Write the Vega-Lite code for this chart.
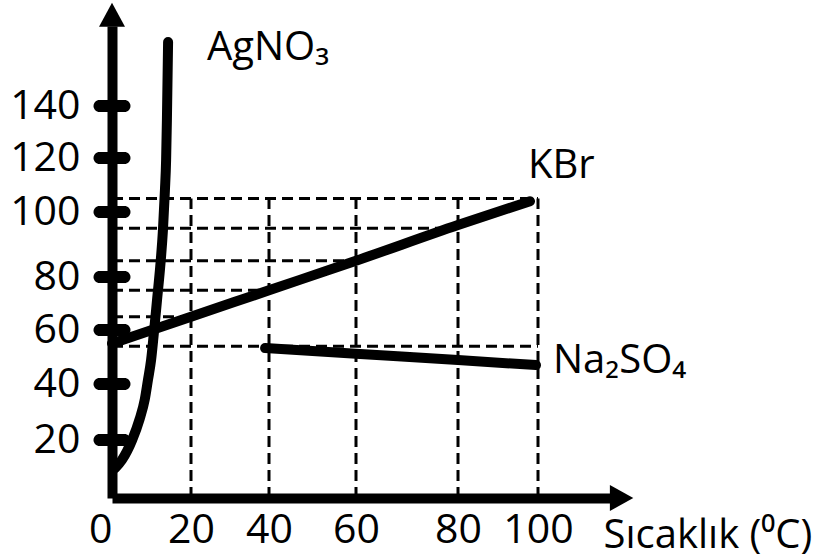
{
  "$schema": "https://vega.github.io/schema/vega-lite/v6.json",
  "width": 712,
  "height": 498,
  "autosize": {"type": "none"},
  "padding": {"left": 112, "top": 0, "right": 0, "bottom": 62},
  "background": "white",
  "config": {"view": {"stroke": null}, "font": "Open Sans"},
  "datasets": {
    "guides": [
      {"x": 0, "x2": 100, "y": 105, "y2": 105},
      {"x": 0, "x2": 80, "y": 95, "y2": 95},
      {"x": 0, "x2": 60, "y": 85, "y2": 85},
      {"x": 0, "x2": 40, "y": 75, "y2": 75},
      {"x": 0, "x2": 20, "y": 65, "y2": 65},
      {"x": 0, "x2": 100, "y": 54, "y2": 54},
      {"x": 20, "x2": 20, "y": 0, "y2": 105},
      {"x": 40, "x2": 40, "y": 0, "y2": 105},
      {"x": 60, "x2": 60, "y": 0, "y2": 105},
      {"x": 80, "x2": 80, "y": 0, "y2": 105},
      {"x": 100, "x2": 100, "y": 0, "y2": 105}
    ],
    "series": [
      {"series": "AgNO3", "x": 0.8, "y": 10.3},
      {"series": "AgNO3", "x": 2.5, "y": 13.1},
      {"series": "AgNO3", "x": 5.1, "y": 20},
      {"series": "AgNO3", "x": 7.0, "y": 27.5},
      {"series": "AgNO3", "x": 8.3, "y": 34.5},
      {"series": "AgNO3", "x": 9.1, "y": 41.5},
      {"series": "AgNO3", "x": 9.9, "y": 48.9},
      {"series": "AgNO3", "x": 10.6, "y": 58.9},
      {"series": "AgNO3", "x": 11.4, "y": 71.3},
      {"series": "AgNO3", "x": 12.2, "y": 83.1},
      {"series": "AgNO3", "x": 12.9, "y": 94.5},
      {"series": "AgNO3", "x": 13.4, "y": 108.1},
      {"series": "AgNO3", "x": 13.7, "y": 119.3},
      {"series": "AgNO3", "x": 13.9, "y": 134.6},
      {"series": "AgNO3", "x": 14.2, "y": 164},
      {"series": "KBr", "x": 0, "y": 55},
      {"series": "KBr", "x": 20, "y": 65},
      {"series": "KBr", "x": 40, "y": 75},
      {"series": "KBr", "x": 60, "y": 85},
      {"series": "KBr", "x": 80, "y": 96},
      {"series": "KBr", "x": 98, "y": 104},
      {"series": "Na2SO4", "x": 39, "y": 53.3},
      {"series": "Na2SO4", "x": 60, "y": 51.2},
      {"series": "Na2SO4", "x": 80, "y": 48.9},
      {"series": "Na2SO4", "x": 99.5, "y": 47}
    ],
    "labels": [
      {"label": "AgNO₃", "x": 24.1, "y": 157.2},
      {"label": "KBr", "x": 97.5, "y": 112.6},
      {"label": "Na₂SO₄", "x": 103.75, "y": 44.1}
    ],
    "yticks": [
      {"x": 0, "y": 20}, {"x": 0, "y": 40}, {"x": 0, "y": 60}, {"x": 0, "y": 80},
      {"x": 0, "y": 100}, {"x": 0, "y": 120}, {"x": 0, "y": 140}
    ],
    "arrows": [
      {"x": 0, "y": 174.2, "dir": "up"},
      {"x": 120.9, "y": 0, "dir": "right"}
    ]
  },
  "encoding": {
    "x": {
      "field": "x",
      "type": "quantitative",
      "scale": {
        "domain": [0, 20, 40, 60, 80, 100, 120],
        "range": [0, 79, 157, 244, 346, 426, 506],
        "nice": false,
        "zero": false
      },
      "axis": {
        "values": [0, 20, 40, 60, 80, 100],
        "ticks": false,
        "grid": false,
        "domainWidth": 10,
        "domainColor": "black",
        "domainCap": "butt",
        "labelFont": "Open Sans",
        "labelFontSize": 41,
        "labelColor": "black",
        "labelPadding": 12,
        "labelFlush": false,
        "labelOverlap": false,
        "labelAlign": {"condition": {"test": "datum.value === 0", "value": "right"}, "value": "center"},
        "title": "Sıcaklık (⁰C)",
        "titleFont": "Open Sans",
        "titleFontSize": 40,
        "titleFontWeight": "normal",
        "titleColor": "black",
        "titleX": 491,
        "titleY": 49,
        "titleAlign": "left",
        "titleBaseline": "alphabetic"
      }
    },
    "y": {
      "field": "y",
      "type": "quantitative",
      "scale": {
        "domain": [0, 20, 40, 60, 80, 100, 120, 140, 170],
        "range": [498, 440, 384, 330, 277, 212, 158, 106, 26],
        "nice": false,
        "zero": false
      },
      "axis": {
        "values": [20, 40, 60, 80, 100, 120, 140],
        "ticks": false,
        "grid": false,
        "domainWidth": 10,
        "domainColor": "black",
        "domainCap": "butt",
        "labelFont": "Open Sans",
        "labelFontSize": 41,
        "labelColor": "black",
        "labelPadding": 32,
        "labelFlush": false,
        "labelOverlap": false,
        "title": null
      }
    }
  },
  "layer": [
    {
      "data": {"name": "guides"},
      "mark": {"type": "rule", "color": "black", "strokeWidth": 3, "strokeDash": [11, 6]},
      "encoding": {
        "x2": {"field": "x2"},
        "y2": {"field": "y2"}
      }
    },
    {
      "data": {"name": "series"},
      "mark": {"type": "line", "color": "black", "strokeCap": "round", "strokeJoin": "round", "interpolate": "monotone"},
      "encoding": {
        "strokeWidth": {
          "field": "series",
          "type": "nominal",
          "scale": {"domain": ["AgNO3", "KBr", "Na2SO4"], "range": [10, 10, 13]},
          "legend": null
        }
      }
    },
    {
      "data": {"name": "yticks"},
      "mark": {"type": "tick", "orient": "horizontal", "size": 37, "thickness": 12, "cornerRadius": 6, "color": "black", "opacity": 1}
    },
    {
      "data": {"name": "labels"},
      "mark": {"type": "text", "align": "left", "baseline": "alphabetic", "fontSize": 40, "font": "Open Sans", "color": "black"},
      "encoding": {
        "text": {"field": "label"}
      }
    },
    {
      "data": {"name": "arrows"},
      "mark": {"type": "point", "filled": true, "size": 676, "color": "black", "opacity": 1, "strokeWidth": 0},
      "encoding": {
        "shape": {
          "field": "dir",
          "type": "nominal",
          "scale": {"domain": ["up", "right"], "range": ["M0,-0.92L1,0.92L-1,0.92Z", "M0.9,0L-0.9,-1L-0.9,1Z"]},
          "legend": null
        }
      }
    }
  ]
}
